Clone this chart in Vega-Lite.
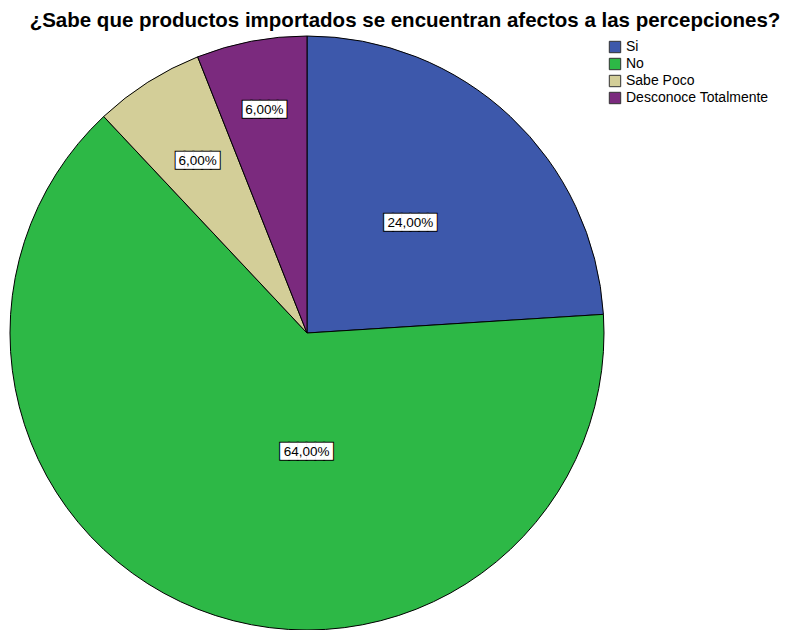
{
  "$schema": "https://vega.github.io/schema/vega-lite/v6.json",
  "width": 594,
  "height": 594,
  "autosize": {"type": "none"},
  "padding": {"left": 10, "top": 36, "right": 183, "bottom": 0},
  "background": "white",
  "title": {
    "text": "¿Sabe que productos importados se encuentran afectos a las percepciones?",
    "font": "Liberation Sans",
    "fontSize": 20.5,
    "fontWeight": "bold",
    "color": "black",
    "anchor": "middle",
    "frame": "group",
    "dx": 98,
    "dy": 22,
    "offset": 9,
    "baseline": "alphabetic"
  },
  "data": {
    "values": [
      {"categoria": "Si", "proporcion": 0.24, "orden": 1},
      {"categoria": "No", "proporcion": 0.64, "orden": 2},
      {"categoria": "Sabe Poco", "proporcion": 0.06, "orden": 3},
      {"categoria": "Desconoce Totalmente", "proporcion": 0.06, "orden": 4}
    ]
  },
  "encoding": {
    "theta": {"field": "proporcion", "type": "quantitative", "stack": true},
    "order": {"field": "orden", "type": "quantitative"},
    "detail": {"field": "categoria", "type": "nominal"}
  },
  "layer": [
    {
      "mark": {"type": "arc", "stroke": "black", "strokeWidth": 1},
      "encoding": {
        "color": {
          "field": "categoria",
          "type": "nominal",
          "scale": {
            "domain": ["Si", "No", "Sabe Poco", "Desconoce Totalmente"],
            "range": ["#3D58AB", "#2DB846", "#D3CE98", "#7B2A7E"]
          },
          "legend": {
            "orient": "none",
            "legendX": 598,
            "legendY": 4,
            "title": null,
            "symbolType": "square",
            "symbolSize": 130,
            "symbolStrokeColor": "#333333",
            "symbolStrokeWidth": 1,
            "symbolOpacity": 1,
            "labelFont": "Liberation Sans",
            "labelFontSize": 14,
            "labelColor": "black",
            "rowPadding": 1,
            "padding": 0
          }
        }
      }
    },
    {
      "mark": {"type": "text", "radius": 151, "font": "DejaVu Sans Mono", "fontSize": 14.5, "fill": "black", "stroke": "black", "strokeWidth": 2, "align": "center", "baseline": "middle"},
      "encoding": {"text": {"condition": {"test": "datum.categoria === 'Si'", "value": "██████"}, "value": ""}}
    },
    {
      "mark": {"type": "text", "radius": 151, "font": "DejaVu Sans Mono", "fontSize": 14.5, "fill": "white", "align": "center", "baseline": "middle"},
      "encoding": {"text": {"condition": {"test": "datum.categoria === 'Si'", "value": "██████"}, "value": ""}}
    },
    {
      "mark": {"type": "text", "radius": 151, "font": "Liberation Sans", "fontSize": 13.5, "fill": "black", "align": "center", "baseline": "middle"},
      "encoding": {"text": {"condition": {"test": "datum.categoria === 'Si'", "field": "proporcion", "type": "quantitative", "format": ".2%"}, "value": ""}}
    },
    {
      "mark": {"type": "text", "radius": 118, "dx": 43, "dy": 9, "font": "DejaVu Sans Mono", "fontSize": 14.5, "fill": "black", "stroke": "black", "strokeWidth": 2, "align": "center", "baseline": "middle"},
      "encoding": {"text": {"condition": {"test": "datum.categoria === 'No'", "value": "██████"}, "value": ""}}
    },
    {
      "mark": {"type": "text", "radius": 118, "dx": 43, "dy": 9, "font": "DejaVu Sans Mono", "fontSize": 14.5, "fill": "white", "align": "center", "baseline": "middle"},
      "encoding": {"text": {"condition": {"test": "datum.categoria === 'No'", "value": "██████"}, "value": ""}}
    },
    {
      "mark": {"type": "text", "radius": 118, "dx": 43, "dy": 9, "font": "Liberation Sans", "fontSize": 13.5, "fill": "black", "align": "center", "baseline": "middle"},
      "encoding": {"text": {"condition": {"test": "datum.categoria === 'No'", "field": "proporcion", "type": "quantitative", "format": ".2%"}, "value": ""}}
    },
    {
      "mark": {"type": "text", "radius": 204, "font": "DejaVu Sans Mono", "fontSize": 14.5, "fill": "black", "stroke": "black", "strokeWidth": 2, "align": "center", "baseline": "middle"},
      "encoding": {"text": {"condition": {"test": "datum.categoria === 'Sabe Poco'", "value": "█████"}, "value": ""}}
    },
    {
      "mark": {"type": "text", "radius": 204, "font": "DejaVu Sans Mono", "fontSize": 14.5, "fill": "white", "align": "center", "baseline": "middle"},
      "encoding": {"text": {"condition": {"test": "datum.categoria === 'Sabe Poco'", "value": "█████"}, "value": ""}}
    },
    {
      "mark": {"type": "text", "radius": 204, "font": "Liberation Sans", "fontSize": 13.5, "fill": "black", "align": "center", "baseline": "middle"},
      "encoding": {"text": {"condition": {"test": "datum.categoria === 'Sabe Poco'", "field": "proporcion", "type": "quantitative", "format": ".2%"}, "value": ""}}
    },
    {
      "mark": {"type": "text", "radius": 227, "font": "DejaVu Sans Mono", "fontSize": 14.5, "fill": "black", "stroke": "black", "strokeWidth": 2, "align": "center", "baseline": "middle"},
      "encoding": {"text": {"condition": {"test": "datum.categoria === 'Desconoce Totalmente'", "value": "█████"}, "value": ""}}
    },
    {
      "mark": {"type": "text", "radius": 227, "font": "DejaVu Sans Mono", "fontSize": 14.5, "fill": "white", "align": "center", "baseline": "middle"},
      "encoding": {"text": {"condition": {"test": "datum.categoria === 'Desconoce Totalmente'", "value": "█████"}, "value": ""}}
    },
    {
      "mark": {"type": "text", "radius": 227, "font": "Liberation Sans", "fontSize": 13.5, "fill": "black", "align": "center", "baseline": "middle"},
      "encoding": {"text": {"condition": {"test": "datum.categoria === 'Desconoce Totalmente'", "field": "proporcion", "type": "quantitative", "format": ".2%"}, "value": ""}}
    }
  ],
  "config": {
    "view": {"stroke": null},
    "locale": {"number": {"decimal": ",", "thousands": ".", "grouping": [3], "currency": ["", " €"]}}
  }
}
